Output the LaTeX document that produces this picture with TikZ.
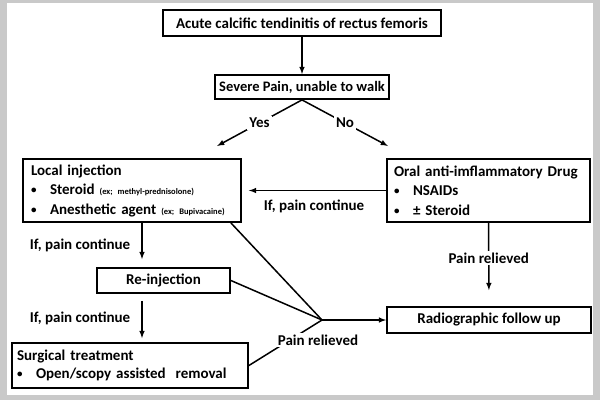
\documentclass[tikz,border=0pt]{standalone}
\usepackage{fontspec}
\setmainfont{Carlito}

\newcommand{\bul}[1]{\makebox[19pt][l]{\raisebox{1pt}{\fontsize{11}{11}\selectfont\textbullet}}#1}
\newcommand{\exnote}[1]{{\fontsize{8.5}{9}\selectfont #1}}

\begin{document}
\begin{tikzpicture}[x=1pt,y=-1pt,
	box/.style={draw, line width=1.8pt, inner sep=0pt, font=\bfseries\fontsize{15}{18}\selectfont},
	listbox/.style={box, align=left, inner xsep=8pt, font=\bfseries\fontsize{15}{19.5}\selectfont},
	lbl/.style={fill=white, inner sep=2pt, font=\bfseries\fontsize{15}{18}\selectfont},
	conn/.style={line width=1.5pt}]
	\useasboundingbox (0,0) rectangle (600,400);
	\fill[gray!42] (0,0) rectangle (600,400);
	\fill[white] (7,3) rectangle (593,395);
	\node (acute) at (302,23) [box, minimum width=278, minimum height=26] {Acute calcific tendinitis of rectus femoris};
	\node (sev) at (302,87) [box, minimum width=174, minimum height=24, font=\bfseries\fontsize{14.5}{18}\selectfont] {Severe Pain, unable to walk};
	\node (loc) at (132,190.5) [listbox, text width=202, minimum height=63] {Local injection\\\bul{Steroid \exnote{(ex; methyl-prednisolone)}}\\\bul{Anesthetic~agent~\exnote{(ex;~Bupivacaine)}}};
	\node (oral) at (488.5,190.5) [listbox, inner xsep=7pt, text width=189, minimum height=63] {Oral~anti-imflammatory~Drug\\\bul{NSAIDs}\\\bul{± Steroid}};
	\node (rein) at (163.5,280.5) [box, minimum width=133, minimum height=25] {Re-injection};
	\node (surg) at (130,365.5) [listbox, font=\bfseries\fontsize{15}{18}\selectfont, inner xsep=5pt, text width=226, minimum height=45] {Surgical treatment\\\bul{Open/scopy~assisted~\ removal}};
	\node (radio) at (489,320) [box, minimum width=204, minimum height=26] {Radiographic follow up};
	\coordinate (yes) at (217,146);
	\coordinate (no) at (388,146);
	\coordinate (jn) at (322,320);
	\draw[-latex,conn] (acute) -- (sev);
	\draw[-latex,conn] (sev.south) -- (yes) node [pos = 0.5, lbl] {Yes};
	\draw[-latex,conn] (sev.south) -- (no) node [pos = 0.5, lbl] {No};
	\draw[-latex,conn,shorten >=7pt] (oral) -- (loc) node [pos = 0.5, below=7pt, lbl] {If, pain continue};
	\draw[-latex,conn,shorten >=8pt] ([xshift=10pt]loc.south) -- ([xshift=10pt]loc.south |- rein.north) node [pos = 0.5, left=9pt, lbl] {If, pain continue};
	\draw[-latex,conn,shorten <=7pt,shorten >=4pt] ([xshift=-21.5pt]rein.south) -- ([xshift=-21.5pt]rein.south |- surg.north) node [pos = 0.5, left=9pt, lbl] {If, pain continue};
	\draw[conn] ([xshift=-11pt]loc.south east) -- (jn);
	\draw[conn] (rein.east) -- (jn);
	\draw[conn] (surg.east) -- (jn);
	\node (prel) at (318,340) [lbl] {Pain relieved};
	\draw[-latex,conn] (jn) -- (radio.west);
	\draw[-latex,conn,shorten >=16pt] (oral.south) -- (radio.north) node [pos = 0.42, lbl] {Pain relieved};
\end{tikzpicture}
\end{document}
